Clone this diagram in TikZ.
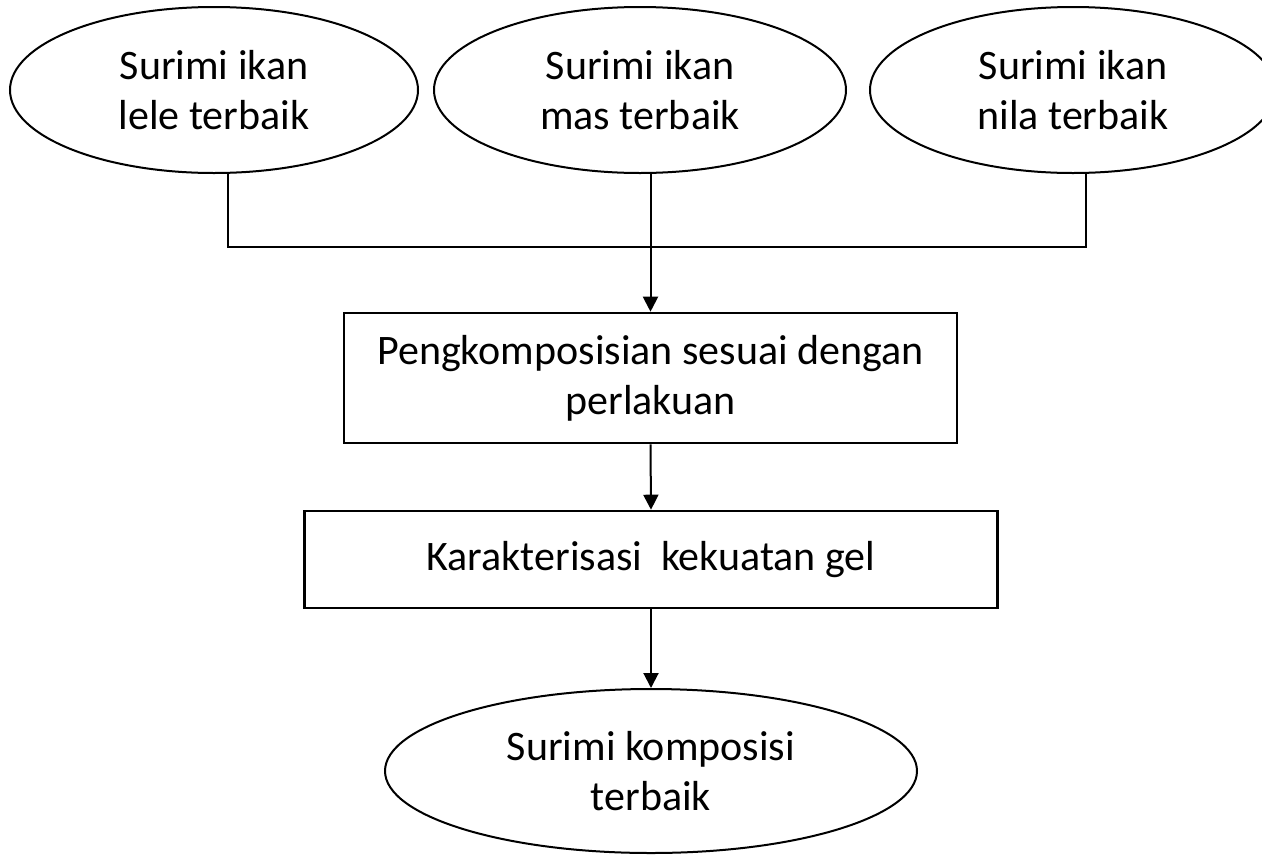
\documentclass[tikz,border=0pt]{standalone}
\usepackage{fontspec}
\setmainfont{Carlito}
\usetikzlibrary{shapes.geometric,arrows.meta}
\tikzset{
  oval/.style={draw, ellipse, line width=2pt, inner sep=0pt, align=center,
    font=\fontsize{42}{50}\selectfont},
  boxnode/.style={draw, rectangle, line width=2.6pt, inner sep=0pt, align=center,
    font=\fontsize{42}{50}\selectfont},
  link/.style={line width=2.6pt},
  arr/.style={line width=2pt, -{Triangle[width=15pt,length=15pt]}},
}
\begin{document}
\begin{tikzpicture}[x=1pt,y=-1pt]
\useasboundingbox (0,0) rectangle (1262,855);
\node[oval, minimum width=408, minimum height=166] (e1) at (214,90) {Surimi ikan\\lele terbaik};
\node[oval, minimum width=412, minimum height=166] (e2) at (640,90) {Surimi ikan\\mas terbaik};
\node[oval, minimum width=406, minimum height=166] (e3) at (1073,90) {Surimi ikan\\nila terbaik};
\node[boxnode, minimum width=613, minimum height=130] (b1) at (650.5,378) {Pengkomposisian sesuai dengan\\perlakuan};
\node[boxnode, minimum width=693, minimum height=97] (b2) at (651,559.5) {Karakterisasi\ \ kekuatan gel};
\node[oval, minimum width=532, minimum height=164] (e4) at (651,771) {Surimi komposisi\\terbaik};
\coordinate (j1) at (228,247);
\coordinate (j3) at (1086,247);
\draw[link] (j1 |- e1.south) -- (j1) -- (j3) -- (j3 |- e3.south);
\draw[arr] (b1.north |- e2.south) -- (b1.north);
\draw[arr] (b1.south) -- (b2.north);
\draw[arr] (b2.south) -- (e4.north);
\end{tikzpicture}
\end{document}
